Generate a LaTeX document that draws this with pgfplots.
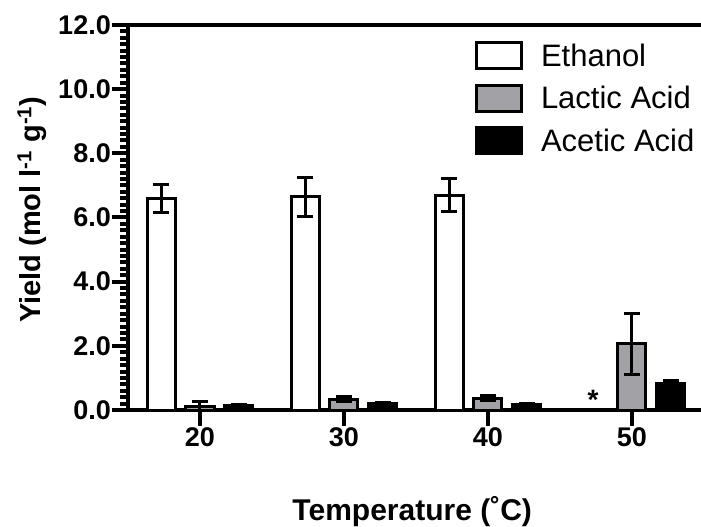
\documentclass[border=0pt]{standalone}
\usepackage{pgfplots}
\pgfplotsset{compat=1.18}
\usepackage{fontspec}
\setmainfont{Liberation Sans}
\definecolor{lactic}{HTML}{A2A2A6}
\begin{document}
\begin{tikzpicture}
\begin{axis}[
  scale only axis,
  width=573pt, height=385pt,
  xmin=-0.5, xmax=3.48,
  ymin=0, ymax=12,
  axis x line*=bottom, axis y line*=left,
  axis line style={line width=4pt, -},
  every tick/.style={black, line width=4pt},
  tick align=outside,
  major tick length=16pt, minor tick length=8pt,
  xtick={0,1,2,3}, xticklabels={20,30,40,50},
  ytick={0,2,4,6,8,10,12},
  minor y tick num=9,
  yticklabel style={/pgf/number format/.cd, fixed, fixed zerofill, precision=1, assume math mode=true},
  ticklabel style={font=\fontsize{27}{31}\selectfont\bfseries, inner sep=1pt},
  xlabel={Temperature (\char"02DA C)},
  ylabel={Yield (mol l\textsuperscript{-1} g\textsuperscript{-1})},
  xlabel style={font=\fontsize{30}{34}\selectfont\bfseries, at={(axis description cs:0.496,0)}, anchor=north, yshift=-86pt, inner sep=0pt},
  ylabel style={font=\fontsize{29}{33}\selectfont\bfseries, at={(axis description cs:0,0.52)}, anchor=center, yshift=96pt, inner sep=0pt},
  ybar, bar width=0.195,
  error bars/y dir=both, error bars/y explicit,
  error bars/error bar style={line width=3pt, black},
  error bars/error mark options={rotate=90, mark size=8pt, line width=3pt, black},
  legend style={draw=none, fill=none, at={(rel axis cs:0.6,0.964)}, anchor=north west,
    font=\fontsize{31}{35}\selectfont, row sep=13.5pt, /tikz/every odd column/.append style={column sep=16pt}},
  legend cell align=left,
  legend image code/.code={\draw[#1, line width=3pt] (0pt,-13pt) rectangle (45pt,13pt);},
  clip=false,
]
\addplot[bar shift=-0.27, fill=white, draw=black, line width=3pt]
  coordinates {(0,6.60) +- (0,0.44) (1,6.64) +- (0,0.62) (2,6.70) +- (0,0.52) (3,0.03) +- (0,0)};
\addplot[bar shift=0, fill=lactic, draw=black, line width=3pt]
  coordinates {(0,0.12) += (0,0.13) -= (0,0.12) (1,0.34) +- (0,0.09) (2,0.37) +- (0,0.07) (3,2.06) +- (0,0.95)};
\addplot[bar shift=0.27, fill=black, draw=black, line width=3pt]
  coordinates {(0,0.15) +- (0,0.03) (1,0.20) +- (0,0.03) (2,0.17) +- (0,0.02) (3,0.84) +- (0,0.09)};
\legend{Ethanol, Lactic Acid, Acetic Acid}
\node[font=\fontsize{28}{32}\selectfont\bfseries, anchor=center] at (axis cs:2.73,0.33) {*};
\draw[line width=4pt] (rel axis cs:0,1) -- (rel axis cs:1,1);
\end{axis}
\pgfresetboundingbox
\path (-128pt,-117pt) rectangle (573pt,410pt);
\end{tikzpicture}
\end{document}
